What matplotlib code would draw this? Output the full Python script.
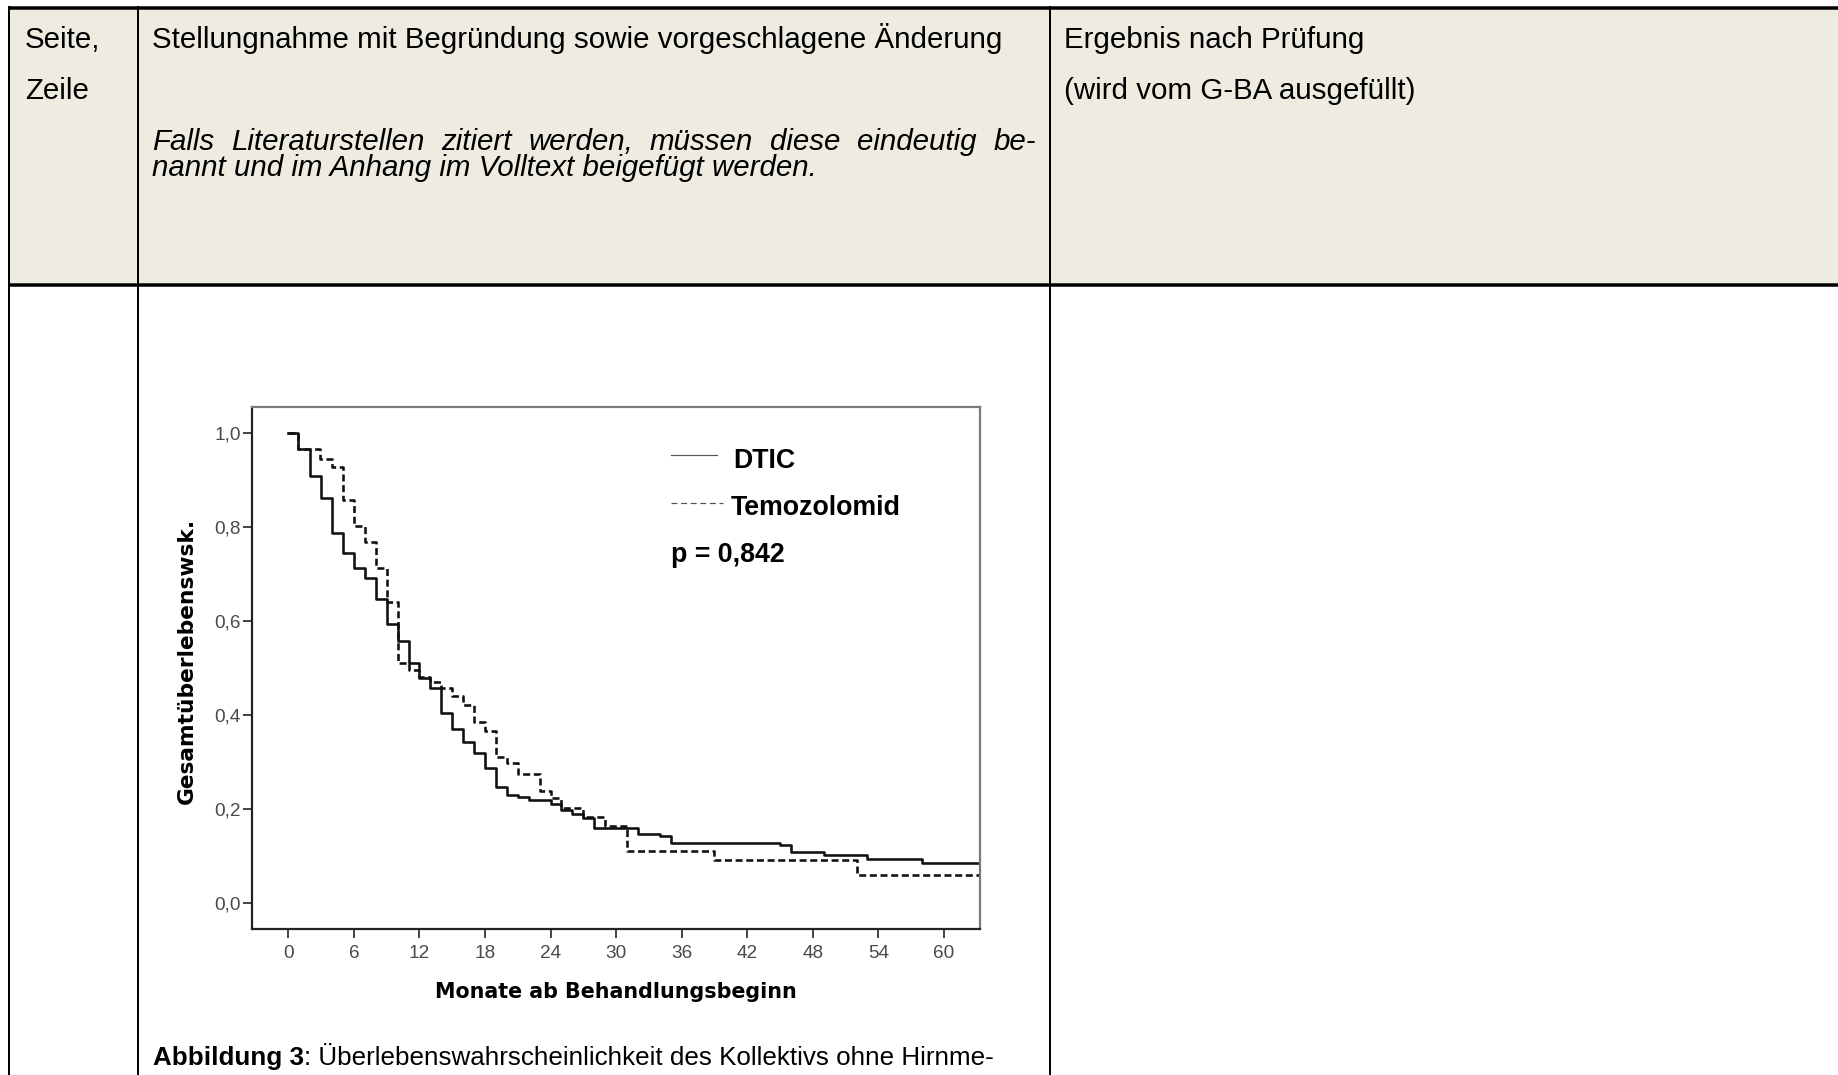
import matplotlib
matplotlib.use("Agg")
import matplotlib.pyplot as plt
from matplotlib.lines import Line2D
from matplotlib.patches import Rectangle

# ---------------- data ----------------
months_dtic = [0, 0.9, 2.0, 3.0, 4.0, 5.0, 6.0, 7.0, 8.0, 9.0, 10.0, 11.0, 12.0, 13.0,
               14.0, 15.0, 16.0, 17.0, 18.0, 19.0, 20.0, 21.0, 22.0, 24.0, 25.0, 26.0,
               27.0, 28.0, 32.0, 34.0, 35.0, 45.0, 46.0, 49.0, 53.0, 58.0]
surv_dtic = [1.0, 0.966, 0.909, 0.862, 0.787, 0.745, 0.713, 0.691, 0.647, 0.594, 0.557,
             0.512, 0.479, 0.457, 0.404, 0.370, 0.344, 0.320, 0.287, 0.248, 0.230, 0.225,
             0.220, 0.212, 0.198, 0.189, 0.181, 0.160, 0.147, 0.142, 0.128, 0.124, 0.108,
             0.102, 0.094, 0.085]
months_temo = [0, 0.9, 2.9, 4.0, 5.0, 6.0, 7.0, 8.0, 9.0, 10.0, 11.0, 12.0, 13.0, 14.0,
               15.0, 16.0, 17.0, 18.0, 19.0, 20.0, 21.0, 23.0, 24.0, 25.0, 27.0, 29.0,
               31.0, 39.0, 52.0]
surv_temo = [1.0, 0.966, 0.945, 0.928, 0.858, 0.803, 0.769, 0.713, 0.640, 0.511, 0.497,
             0.481, 0.471, 0.457, 0.441, 0.422, 0.386, 0.367, 0.311, 0.298, 0.274, 0.239,
             0.223, 0.202, 0.184, 0.165, 0.110, 0.092, 0.060]
followup_end = 64.0

series_names = ["DTIC", "Temozolomid"]
p_value_text = "p = 0,842"
xtick_values = [0, 6, 12, 18, 24, 30, 36, 42, 48, 54, 60]
ytick_values = [0.0, 0.2, 0.4, 0.6, 0.8, 1.0]
ytick_labels = ["0,0", "0,2", "0,4", "0,6", "0,8", "1,0"]
xlabel_text = "Monate ab Behandlungsbeginn"
ylabel_text = "Gesamtüberlebenswsk."

header_col1 = ["Seite,", "Zeile"]
header_col2 = "Stellungnahme mit Begründung sowie vorgeschlagene Änderung"
header_italic = ["Falls Literaturstellen zitiert werden, müssen diese eindeutig be-",
                 "nannt und im Anhang im Volltext beigefügt werden."]
header_col3 = ["Ergebnis nach Prüfung", "(wird vom G-BA ausgefüllt)"]
caption_bold = "Abbildung 3"
caption_rest = ": Überlebenswahrscheinlichkeit des Kollektivs ohne Hirnme-"

# ---------------- layout helpers ----------------
W, H = 1838, 1075
PT = 0.72  # points per pixel at dpi 100


def fx(x):
    return x / W


def fy(y):
    return 1 - y / H


fig = plt.figure(figsize=(W / 100, H / 100), dpi=100)
fig.patch.set_facecolor("white")

ARIAL = ["Liberation Sans", "DejaVu Sans"]
HEAD_PX = 29.5
CAP_PX = 26

# header background
fig.add_artist(Rectangle((fx(9), fy(284)), fx(W) - fx(9), fy(7) - fy(284),
                         transform=fig.transFigure, facecolor="#EEECE1",
                         edgecolor="none", zorder=0))


def hline(y, x0, x1, lw):
    fig.add_artist(Line2D([fx(x0), fx(x1)], [fy(y), fy(y)], transform=fig.transFigure,
                          color="black", lw=lw * PT, solid_capstyle="butt", zorder=5))


def vline(x, y0, y1, lw):
    fig.add_artist(Line2D([fx(x), fx(x)], [fy(y0), fy(y1)], transform=fig.transFigure,
                          color="black", lw=lw * PT, solid_capstyle="butt", zorder=5))


hline(7.5, 8, W, 3.5)
hline(284.5, 8, W, 3.5)
for xc in (9, 138, 1050):
    vline(xc, 6, H, 2)

# header texts
fig.text(fx(25), fy(48), header_col1[0], family=ARIAL, fontsize=HEAD_PX * PT, va="baseline")
fig.text(fx(25), fy(99), header_col1[1], family=ARIAL, fontsize=HEAD_PX * PT, va="baseline")
fig.text(fx(152), fy(48), header_col2, family=ARIAL, fontsize=HEAD_PX * PT, va="baseline")
fig.text(fx(1064), fy(48), header_col3[0], family=ARIAL, fontsize=HEAD_PX * PT, va="baseline")
fig.text(fx(1064), fy(99), header_col3[1], family=ARIAL, fontsize=HEAD_PX * PT, va="baseline")

# justified italic first line
words = header_italic[0].split()
word_texts = [fig.text(0, fy(150), w, family=ARIAL, style="italic",
                       fontsize=HEAD_PX * PT, va="baseline") for w in words]
fig.text(fx(152), fy(176), header_italic[1], family=ARIAL, style="italic",
         fontsize=HEAD_PX * PT, va="baseline")

# caption
cap1 = fig.text(fx(153), fy(1065), caption_bold, family=ARIAL, weight="bold",
                fontsize=CAP_PX * PT, va="baseline")
cap2 = fig.text(0, fy(1065), caption_rest, family=ARIAL, fontsize=CAP_PX * PT, va="baseline")

# ---------------- chart ----------------
ax_l, ax_r, ax_t, ax_b = 251.7, 980.0, 407.0, 929.0
ax = fig.add_axes([fx(ax_l), fy(ax_b), fx(ax_r) - fx(ax_l), fy(ax_t) - fy(ax_b)])
ax.set_facecolor("white")

x_d = months_dtic + [followup_end]
y_d = surv_dtic + [surv_dtic[-1]]
x_t = months_temo + [followup_end]
y_t = surv_temo + [surv_temo[-1]]
ax.step(x_d, y_d, where="post", color="#111111", lw=2.6 * PT)
ax.step(x_t, y_t, where="post", color="#111111", lw=2.6 * PT,
        linestyle=(0, (2.7, 1.4)))

ax.set_xlim(-3.35, 63.3)
ax.set_ylim(-0.055, 1.056)

for side in ("top", "right"):
    ax.spines[side].set_color("#7a7a7a")
    ax.spines[side].set_linewidth(2.2 * PT)
for side in ("left", "bottom"):
    ax.spines[side].set_color("#222222")
    ax.spines[side].set_linewidth(2.2 * PT)

ax.set_xticks(xtick_values)
ax.set_xticklabels([str(v) for v in xtick_values])
ax.set_yticks(ytick_values)
ax.set_yticklabels(ytick_labels)
ax.tick_params(axis="both", direction="out", length=9 * PT, width=1.8 * PT,
               color="#333333", labelcolor="#4a4a4a", labelsize=19 * PT)
ax.tick_params(axis="y", pad=2 * PT)
ax.tick_params(axis="x", pad=7 * PT)
for lab in ax.get_xticklabels() + ax.get_yticklabels():
    lab.set_family(ARIAL)

ax.set_xlabel(xlabel_text, family="DejaVu Sans", weight="bold", fontsize=20.7 * PT)
ax.xaxis.label.set_va("baseline")
ax.xaxis.set_label_coords(0.5, (ax_b - 998) / (ax_b - ax_t))
ax.set_ylabel(ylabel_text, family="DejaVu Sans", weight="bold", fontsize=21.8 * PT)
ax.yaxis.label.set_va("center")
ax.yaxis.set_label_coords((187 - ax_l) / (ax_r - ax_l), (ax_b - 661) / (ax_b - ax_t))


def axx(x):
    return (x - ax_l) / (ax_r - ax_l)


def axy(y):
    return (ax_b - y) / (ax_b - ax_t)


# in-plot legend
ax.add_line(Line2D([axx(671), axx(717)], [axy(455), axy(455)], transform=ax.transAxes,
                   color="#555555", lw=1.2 * PT))
ax.add_line(Line2D([axx(671), axx(723)], [axy(503), axy(503)], transform=ax.transAxes,
                   color="#555555", lw=1.2 * PT, linestyle=(0, (5.0, 3.0))))
LEG_PX = 26.8
ax.text(axx(733), axy(468), series_names[0], transform=ax.transAxes, family=ARIAL,
        weight="bold", fontsize=LEG_PX * PT, va="baseline")
ax.text(axx(731), axy(515), series_names[1], transform=ax.transAxes, family=ARIAL,
        weight="bold", fontsize=LEG_PX * PT, va="baseline")
ax.text(axx(671), axy(562), p_value_text, transform=ax.transAxes, family=ARIAL,
        weight="bold", fontsize=LEG_PX * PT, va="baseline")

# ---------------- justify + caption placement ----------------
fig.canvas.draw()
r = fig.canvas.get_renderer()
widths = [t.get_window_extent(r).width for t in word_texts]
x0, x1 = 152.0, 1036.0
gap = (x1 - x0 - sum(widths)) / (len(words) - 1)
xpos = x0
for t, w in zip(word_texts, widths):
    t.set_x(fx(xpos))
    xpos += w + gap

bb = cap1.get_window_extent(r)
cap2.set_x(bb.x1 / W)

fig.savefig("out.png", dpi=100)
